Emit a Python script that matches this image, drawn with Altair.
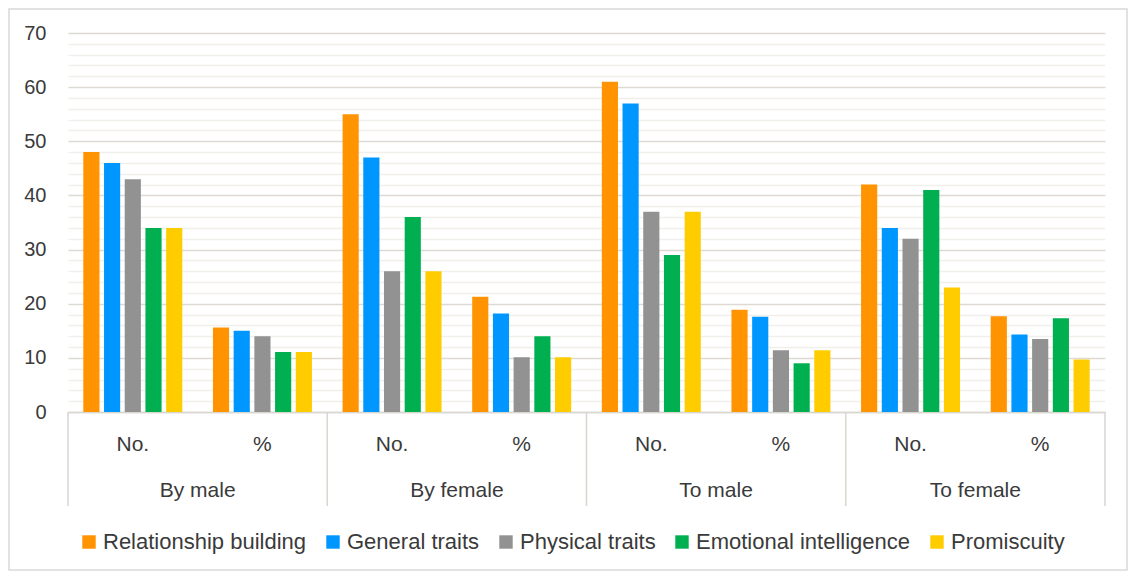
import altair as alt
import pandas as pd

# ---- data ----
groups = ["By male", "By female", "To male", "To female"]
subs = ["No.", "%"]
series = ["Relationship building", "General traits", "Physical traits",
          "Emotional intelligence", "Promiscuity"]
colors = ["#FF9300", "#0096FF", "#929292", "#00B050", "#FFCC00"]

# values per series across the 8 categories (By male No., By male %, By female No., ...)
relationship = [48, 15.6, 55, 21.3, 61, 18.9, 42, 17.7]
general = [46, 15.0, 47, 18.2, 57, 17.6, 34, 14.3]
physical = [43, 14.0, 26, 10.1, 37, 11.4, 32, 13.5]
emotional = [34, 11.1, 36, 14.0, 29, 9.0, 41, 17.3]
promiscuity = [34, 11.1, 26, 10.1, 37, 11.4, 23, 9.7]

y_ticks = list(range(0, 71, 2))

# ---- build table ----
cats = [f"{g}|{s}" for g in groups for s in subs]
rows = []
for name, vals in zip(series, [relationship, general, physical, emotional, promiscuity]):
    for c, v in zip(cats, vals):
        rows.append({"cat": c, "series": name, "value": v})
df = pd.DataFrame(rows)
gdf = pd.DataFrame({"group": groups})
last_df = pd.DataFrame({"group": [groups[-1]]})
box_df = pd.DataFrame({"k": [0]})

W, H = 1037, 379
PL, PT, PR, PB = 60, 25, 23, 159
FONT = "Liberation Sans"
TXT = "#3A3A3A"
GRID_MAJOR = "#DDDAD4"
GRID_MINOR = "#F1EFEB"
LINE = "#D9D6D0"

bars = alt.Chart(df).mark_bar().encode(
    x=alt.X("cat:N", sort=cats, title=None,
            scale=alt.Scale(paddingInner=0, paddingOuter=0),
            axis=alt.Axis(labelExpr="split(datum.label, '|')[1]", labelAngle=0,
                          ticks=False, tickSize=0, labelPadding=32,
                          labelBaseline="middle", labelFontSize=21,
                          labelFont=FONT, labelColor=TXT,
                          domainColor=LINE, domainWidth=1.5, grid=False)),
    xOffset=alt.XOffset("series:N", sort=series,
                        scale=alt.Scale(paddingInner=0.22, paddingOuter=0.74)),
    y=alt.Y("value:Q", title=None,
            scale=alt.Scale(domain=[0, 70], nice=False),
            axis=alt.Axis(values=y_ticks,
                          labelExpr="datum.value % 10 === 0 ? datum.label : ''",
                          domain=False, ticks=False, labelPadding=22,
                          labelFontSize=20, labelFont=FONT, labelColor=TXT,
                          gridColor={"condition": {"test": "datum.value % 10 === 0",
                                                   "value": GRID_MAJOR},
                                     "value": GRID_MINOR},
                          gridWidth=1.5)),
    color=alt.Color("series:N", sort=series,
                    scale=alt.Scale(domain=series, range=colors),
                    legend=alt.Legend(title=None, orient="none", direction="horizontal",
                                      legendX=10, legendY=498, symbolType="square",
                                      symbolSize=180, symbolStrokeWidth=0,
                                      labelFontSize=22, labelFont=FONT,
                                      labelColor=TXT, columnPadding=15,
                                      labelOffset=3, labelLimit=500)),
)

gx = alt.X("group:N", sort=groups, axis=None,
           scale=alt.Scale(paddingInner=0, paddingOuter=0))

seps = alt.Chart(gdf).mark_rule(color=LINE, strokeWidth=1.5).encode(
    x=alt.X("group:N", sort=groups, axis=None, bandPosition=0,
            scale=alt.Scale(paddingInner=0, paddingOuter=0)),
    y=alt.value(H), y2=alt.value(H + 94))

sep_end = alt.Chart(last_df).mark_rule(color=LINE, strokeWidth=1.5).encode(
    x=alt.X("group:N", sort=groups, axis=None, bandPosition=1,
            scale=alt.Scale(domain=groups, paddingInner=0, paddingOuter=0)),
    y=alt.value(H), y2=alt.value(H + 94))

glabels = alt.Chart(gdf).mark_text(fontSize=21, font=FONT, color=TXT,
                                   baseline="middle").encode(
    x=gx, y=alt.value(H + 79), text="group:N")

box = alt.Chart(box_df).mark_rect(fill="white", fillOpacity=0, stroke="#D9D9D9",
                                  strokeWidth=1.5).encode(
    x=alt.value(-PL + 1), x2=alt.value(W + PR - 1),
    y=alt.value(-PT + 1), y2=alt.value(H + PB - 1))

overlay = alt.layer(seps, sep_end, glabels)

chart = alt.layer(box, bars, overlay).resolve_scale(x="independent").properties(
    width=W, height=H,
    autosize=alt.AutoSizeParams(type="none"),
    padding={"left": PL, "top": PT, "right": PR, "bottom": PB},
    background="white",
).configure_view(stroke=None)

chart.save("out.html", embed_options={"renderer": "svg", "actions": False})
